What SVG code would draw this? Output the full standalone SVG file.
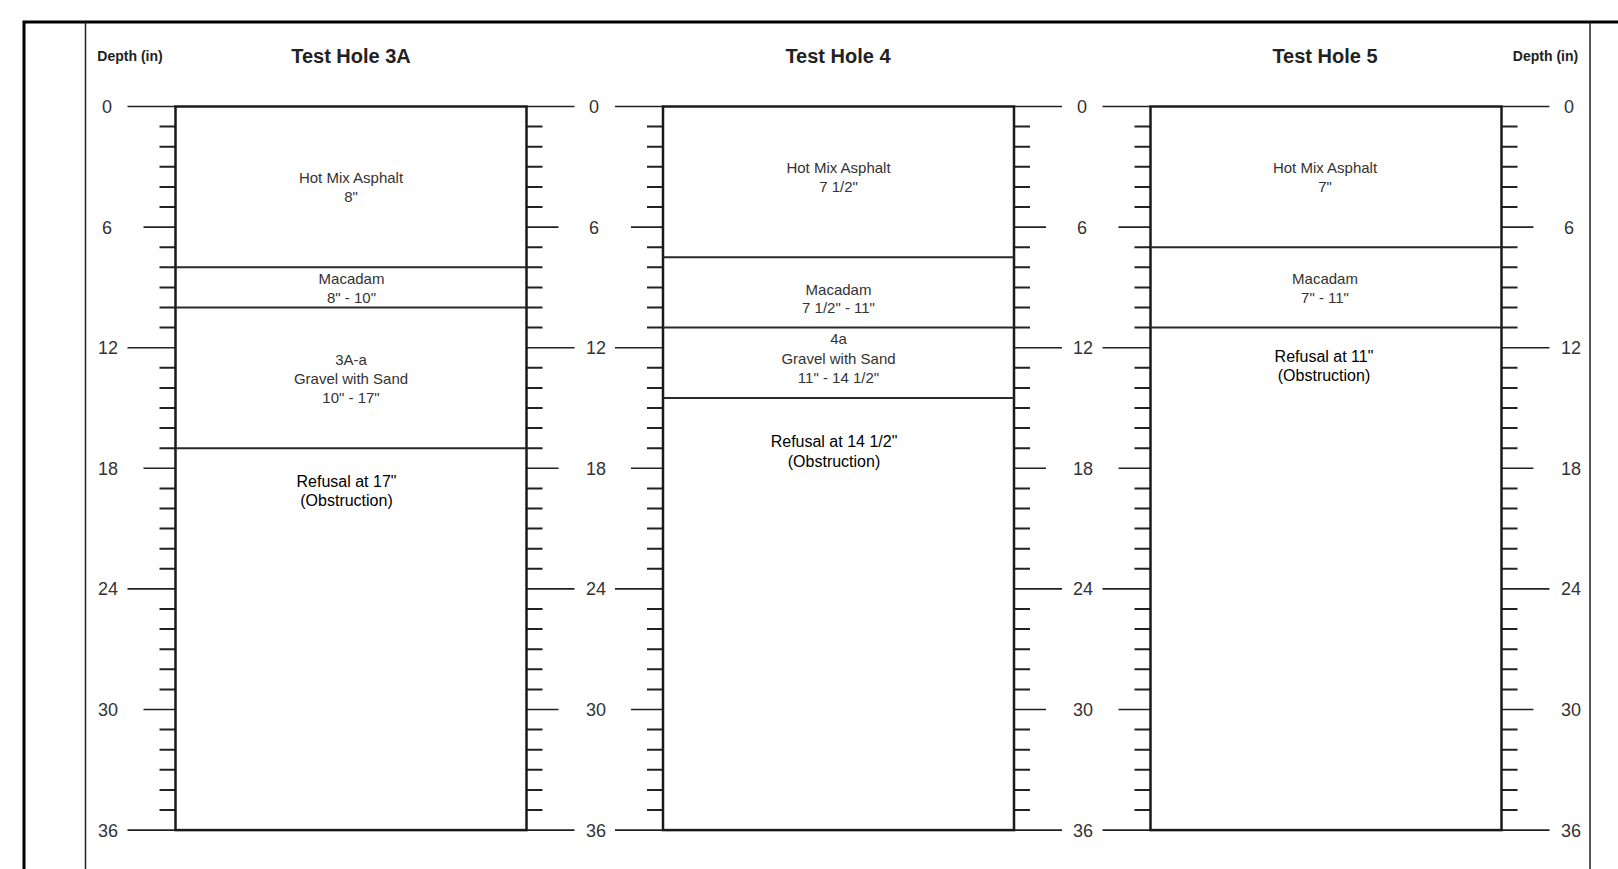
<svg xmlns="http://www.w3.org/2000/svg" xmlns:xlink="http://www.w3.org/1999/xlink" width="1618" height="869" viewBox="0 0 1618 869">
<style>
.frame{fill:none;stroke:#000;stroke-width:3}
.thin{fill:none;stroke:#222;stroke-width:1.5}
.box{fill:#fff;stroke:#1a1a1a;stroke-width:2.5}
.layer{stroke:#2a2a2a;stroke-width:2}
.tick{fill:none;stroke:#222;stroke-width:2}
.ext{fill:none;stroke:#222;stroke-width:1.6}
.num{font-family:"Liberation Sans",Arial,sans-serif;font-size:18px;fill:#333;text-anchor:middle}
.title{font-family:"Liberation Sans",Arial,sans-serif;font-size:20px;font-weight:bold;fill:#222;text-anchor:middle}
.depth{font-family:"Liberation Sans",Arial,sans-serif;font-size:14px;font-weight:bold;fill:#222;text-anchor:middle}
.lt{font-family:"Liberation Sans",Arial,sans-serif;font-size:15px;fill:#333;text-anchor:middle}
.rf{font-family:"Liberation Sans",Arial,sans-serif;font-size:16px;fill:#000;text-anchor:middle}
</style>
<defs>
<g id="ticks">
<path class="tick" d="M-16 126.6h16M-16 146.7h16M-16 166.8h16M-16 186.9h16M-16 207h16M-16 247.2h16M-16 267.3h16M-16 287.4h16M-16 307.5h16M-16 327.6h16M-16 367.8h16M-16 387.9h16M-16 408h16M-16 428.1h16M-16 448.2h16M-16 488.4h16M-16 508.5h16M-16 528.6h16M-16 548.7h16M-16 568.8h16M-16 609h16M-16 629.1h16M-16 649.2h16M-16 669.3h16M-16 689.4h16M-16 729.6h16M-16 749.7h16M-16 769.8h16M-16 789.9h16M-16 810h16"/>
<path class="ext" d="M-32 227.1h32M-48 347.7h48M-32 468.3h32M-48 588.9h48M-32 709.5h32M-48 106.5h48M-48 830.1h48"/>
</g>
</defs>
<g id="frame">
<path class="frame" d="M24 869V22H1618"/>
<path class="thin" d="M85.5 22V869M1590 22V869"/>
</g>
<g id="scale-labels">
<text class="depth" x="130" y="61">Depth (in)</text>
<text class="depth" x="1545.5" y="61">Depth (in)</text>
<g class="num">
<text x="107" y="112.9">0</text><text x="107" y="233.5">6</text><text x="108" y="354.1">12</text><text x="108" y="474.7">18</text><text x="108" y="595.3">24</text><text x="108" y="715.9">30</text><text x="108" y="836.5">36</text>
<text x="594" y="112.9">0</text><text x="594" y="233.5">6</text><text x="596" y="354.1">12</text><text x="596" y="474.7">18</text><text x="596" y="595.3">24</text><text x="596" y="715.9">30</text><text x="596" y="836.5">36</text>
<text x="1082" y="112.9">0</text><text x="1082" y="233.5">6</text><text x="1083" y="354.1">12</text><text x="1083" y="474.7">18</text><text x="1083" y="595.3">24</text><text x="1083" y="715.9">30</text><text x="1083" y="836.5">36</text>
<text x="1569" y="112.9">0</text><text x="1569" y="233.5">6</text><text x="1571" y="354.1">12</text><text x="1571" y="474.7">18</text><text x="1571" y="595.3">24</text><text x="1571" y="715.9">30</text><text x="1571" y="836.5">36</text>
</g>
</g>
<g id="hole-3A">
<text class="title" x="351" y="63">Test Hole 3A</text>
<use xlink:href="#ticks" href="#ticks" transform="translate(175.5,0)"/>
<use xlink:href="#ticks" href="#ticks" transform="translate(526.5,0) scale(-1,1)"/>
<rect class="box" x="175.5" y="106.5" width="351" height="723.6"/>
<path class="layer" d="M175.5 267.3H526.5M175.5 307.5H526.5M175.5 448.2H526.5"/>
<text class="lt" x="351" y="183">Hot Mix Asphalt</text>
<text class="lt" x="351" y="201.5">8"</text>
<text class="lt" x="351.5" y="284">Macadam</text>
<text class="lt" x="351.5" y="302.5">8" - 10"</text>
<text class="lt" x="351" y="364.5">3A-a</text>
<text class="lt" x="351" y="384">Gravel with Sand</text>
<text class="lt" x="351" y="402.5">10" - 17"</text>
<text class="rf" x="346.5" y="486.5">Refusal at 17"</text>
<text class="rf" x="346.5" y="506">(Obstruction)</text>
</g>
<g id="hole-4">
<text class="title" x="838" y="63">Test Hole 4</text>
<use xlink:href="#ticks" href="#ticks" transform="translate(663,0)"/>
<use xlink:href="#ticks" href="#ticks" transform="translate(1014,0) scale(-1,1)"/>
<rect class="box" x="663" y="106.5" width="351" height="723.6"/>
<path class="layer" d="M663 257.3H1014M663 327.6H1014M663 398H1014"/>
<text class="lt" x="838.5" y="172.5">Hot Mix Asphalt</text>
<text class="lt" x="838.5" y="192">7 1/2"</text>
<text class="lt" x="838.5" y="294.5">Macadam</text>
<text class="lt" x="838.5" y="313">7 1/2" - 11"</text>
<text class="lt" x="838.5" y="344">4a</text>
<text class="lt" x="838.5" y="363.5">Gravel with Sand</text>
<text class="lt" x="838.5" y="383">11" - 14 1/2"</text>
<text class="rf" x="834" y="447">Refusal at 14 1/2"</text>
<text class="rf" x="834" y="466.5">(Obstruction)</text>
</g>
<g id="hole-5">
<text class="title" x="1325" y="63">Test Hole 5</text>
<use xlink:href="#ticks" href="#ticks" transform="translate(1150.5,0)"/>
<use xlink:href="#ticks" href="#ticks" transform="translate(1501.5,0) scale(-1,1)"/>
<rect class="box" x="1150.5" y="106.5" width="351" height="723.6"/>
<path class="layer" d="M1150.5 247.2H1501.5M1150.5 327.6H1501.5"/>
<text class="lt" x="1325" y="172.5">Hot Mix Asphalt</text>
<text class="lt" x="1325" y="192">7"</text>
<text class="lt" x="1325" y="284">Macadam</text>
<text class="lt" x="1325" y="302.5">7" - 11"</text>
<text class="rf" x="1324" y="361.5">Refusal at 11"</text>
<text class="rf" x="1324" y="381">(Obstruction)</text>
</g>
<g id="connectors"></g>
</svg>
